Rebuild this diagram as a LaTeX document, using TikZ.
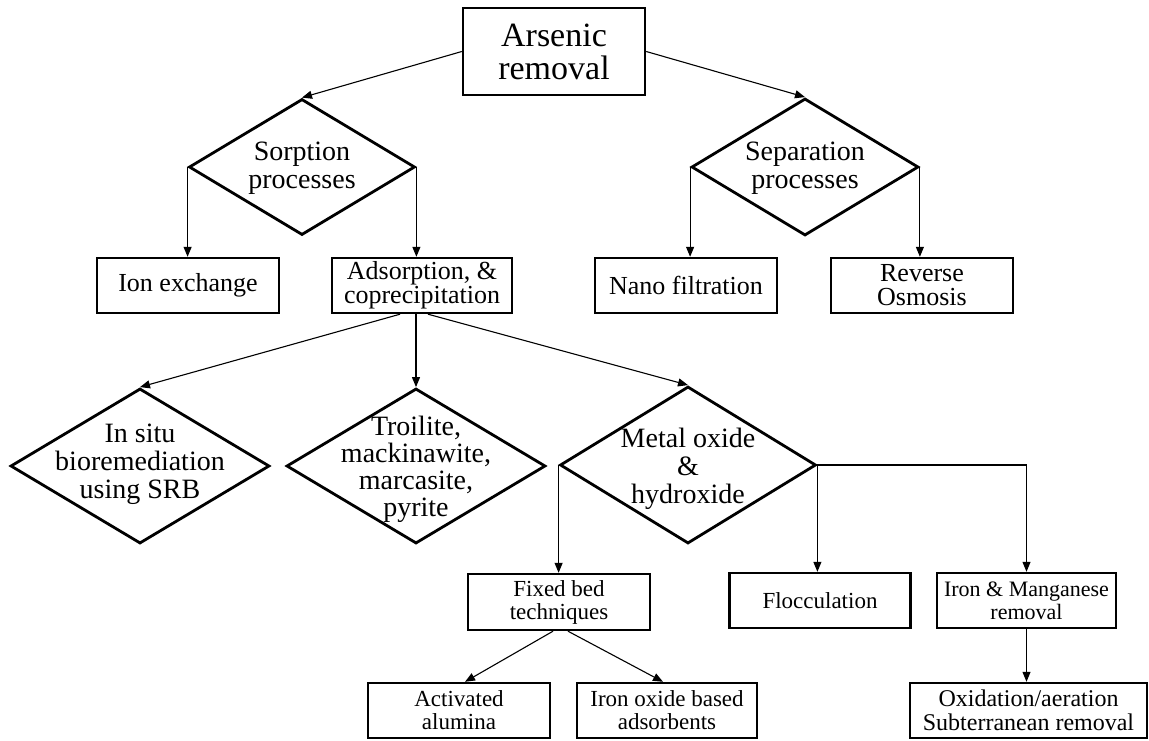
\documentclass[tikz,border=0pt]{standalone}
\usepackage{fontspec}
\setmainfont{Liberation Serif}
\usetikzlibrary{shapes.geometric,arrows.meta,calc}
\begin{document}
\begin{tikzpicture}[x=1pt,y=-1pt,
  box/.style={draw, line width=2.4pt, rectangle, inner sep=0pt, minimum height=55pt, align=center},
  dia/.style={draw, diamond, line width=2.8pt, inner sep=0pt},
  fbig/.style={font=\fontsize{34}{33}\selectfont},
  fmid/.style={font=\fontsize{26}{24}\selectfont},
  fsml/.style={font=\fontsize{23}{23}\selectfont},
  dtxt/.style={font=\fontsize{28}{28}\selectfont, align=center, inner sep=0pt},
  conn/.style={line width=1.1pt, -{Triangle[length=10pt,width=8pt]}},
]
\useasboundingbox (0,0) rectangle (1149,741);
% level 0
\node[box,fbig,minimum width=182pt,minimum height=87pt] (ars) at (554,51.5) {Arsenic\\removal};
% level 1
\node[dia,minimum width=226pt,minimum height=136pt] (sorp) at (302,167) {};
\node[dtxt] (sorpt) at (302,168) {Sorption\\processes};
\node[dia,minimum width=227pt,minimum height=137pt] (sep) at (805,167) {};
\node[dtxt] (sept) at (805,168) {Separation\\processes};
% level 2
\node[box,fmid,minimum width=182pt] (ion) at (188,285.5) {Ion exchange};
\node[box,fmid,minimum width=180pt] (ads) at (422,285.5) {\raisebox{0pt}{Adsorption, \&}\\coprecipitation};
\node[box,fmid,minimum width=182pt] (nano) at (686,285.5) {Nano filtration};
\node[box,fmid,minimum width=182pt] (rev) at (922,285.5) {Reverse\\Osmosis};
% level 3
\node[dia,minimum width=259pt,minimum height=155pt] (insitu) at (140,466) {};
\node[dtxt] (insitut) at (140,464) {In situ\\bioremediation\\using SRB};
\node[dia,minimum width=259pt,minimum height=155pt] (troil) at (416,466) {};
\node[dtxt,font=\fontsize{28}{27}\selectfont] (troilt) at (416,469) {Troilite,\\mackinawite,\\marcasite,\\pyrite};
\node[dia,minimum width=256pt,minimum height=157pt] (metal) at (688,465) {};
\node[dtxt] (metalt) at (688,469) {Metal oxide\\\&\\hydroxide};
% level 4
\node[box,fsml,minimum width=182pt,minimum height=56pt] (fixed) at (559,602) {Fixed bed\\techniques};
\node[box,fsml,minimum width=181pt] (floc) at (820,600.5) {Flocculation};
\node[box,font=\fontsize{22}{23}\selectfont,minimum width=179pt] (femn) at (1026.5,600.5) {Iron \& Manganese\\removal};
% level 5
\node[box,fsml,minimum width=182pt] (alum) at (459,710.5) {Activated\\alumina};
\node[box,fsml,minimum width=180pt] (feox) at (667,710.5) {Iron oxide based\\adsorbents};
\node[box,font=\fontsize{24}{24}\selectfont,minimum width=237pt] (oxid) at (1028.5,710.5) {Oxidation/aeration\\Subterranean removal};
% connectors
\draw[conn] (ars.west) -- (sorp.north);
\draw[conn] (ars.east) -- (sep.north);
\draw[conn] (sorp.west) -- (sorp.west |- ion.north);
\draw[conn] (sorp.east) -- (sorp.east |- ads.north);
\draw[conn] (sep.west) -- (sep.west |- nano.north);
\draw[conn] (sep.east) -- (sep.east |- rev.north);
\draw[conn] ([xshift=-22pt]ads.south) -- (insitu.north);
\draw[conn] ([xshift=-6pt]ads.south) -- (troil.north);
\draw[conn] ([xshift=6pt]ads.south) -- (metal.north);
\draw[conn] (metal.west) -- (metal.west |- fixed.north);
\draw[conn] (metal.east) -- (metal.east |- floc.north);
\draw[conn] (metal.east) -| (femn.north);
\draw[conn] ([xshift=-6pt]fixed.south) -- ([xshift=6pt]alum.north);
\draw[conn] ([xshift=9pt]fixed.south) -- ([xshift=-4pt]feox.north);
\draw[conn] (femn.south) -- (femn.south |- oxid.north);
\end{tikzpicture}
\end{document}
